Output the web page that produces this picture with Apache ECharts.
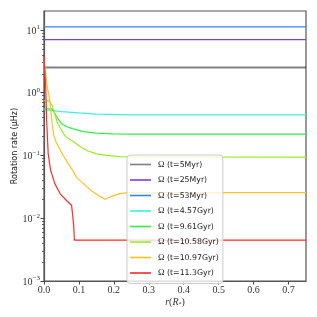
<!DOCTYPE html>
<html><head><meta charset="utf-8">
<script src="https://cdn.jsdelivr.net/npm/echarts@6/dist/echarts.min.js"></script>
<style>html,body{margin:0;padding:0;background:#fff}#c{width:317px;height:317px}</style>
</head><body><div id="c"></div>
<script>
// ---- data ----
const xTicks = [0, 0.1, 0.2, 0.3, 0.4, 0.5, 0.6, 0.7];
const yTicks = [0.001, 0.01, 0.1, 1, 10];
const yMinorTicks = [2e-3,3e-3,4e-3,5e-3,6e-3,7e-3,8e-3,9e-3,2e-2,3e-2,4e-2,5e-2,6e-2,7e-2,8e-2,9e-2,0.2,0.3,0.4,0.5,0.6,0.7,0.8,0.9,2,3,4,5,6,7,8,9];
const names = ['Ω (t=5Myr)','Ω (t=25Myr)','Ω (t=53Myr)','Ω (t=4.57Gyr)','Ω (t=9.61Gyr)','Ω (t=10.58Gyr)','Ω (t=10.97Gyr)','Ω (t=11.3Gyr)'];

const r5 = [0, 0.75],   v5 = [2.52, 2.52];
const r25 = [0, 0.75],  v25 = [7.0, 7.0];
const r53 = [0, 0.75],  v53 = [11.2, 11.2];
const r457 = [0, 0.05, 0.1, 0.15, 0.25, 0.75];
const v457 = [0.535, 0.499, 0.476, 0.456, 0.443, 0.443];
const r961 = [0, 0.023, 0.028, 0.037, 0.051, 0.065, 0.084, 0.112, 0.151, 0.197, 0.246, 0.75];
const v961 = [0.551, 0.551, 0.518, 0.406, 0.319, 0.286, 0.265, 0.240, 0.226, 0.221, 0.219, 0.219];
const r1058 = [0, 0.011, 0.017, 0.023, 0.029, 0.037, 0.046, 0.056, 0.065, 0.084, 0.103, 0.122, 0.151, 0.179, 0.217, 0.274, 0.75];
const v1058 = [0.746, 0.746, 0.719, 0.622, 0.499, 0.347, 0.278, 0.223, 0.193, 0.167, 0.139, 0.120, 0.106, 0.100, 0.0957, 0.0944, 0.094];
const r1097 = [0, 0.006, 0.010, 0.014, 0.018, 0.023, 0.028, 0.034, 0.041, 0.055, 0.069, 0.084, 0.093, 0.106, 0.122, 0.134, 0.151, 0.165, 0.174, 0.189, 0.206, 0.217, 0.236, 0.26, 0.75];
const v1097 = [3.22, 1.80, 1.16, 0.93, 0.622, 0.338, 0.207, 0.167, 0.139, 0.100, 0.0747, 0.0557, 0.0448, 0.0387, 0.0322, 0.0278, 0.0240, 0.0216, 0.0200, 0.0218, 0.0236, 0.0247, 0.0254, 0.0256, 0.0256];
const r113 = [0, 0.002, 0.005, 0.0076, 0.012, 0.019, 0.031, 0.046, 0.065, 0.079, 0.081, 0.085, 0.087, 0.75];
const v113 = [3.87, 2.23, 1.21, 0.36, 0.106, 0.0578, 0.0356, 0.0247, 0.019, 0.0161, 0.0150, 0.0077, 0.00448, 0.00448];

const colors = ['rgba(0,0,0,0.5)','#7a40d8','#2f86f6','#3ff0dc','#2fee44','#99ee22','#ffc020','#ff2a2a'];
const widths = [2, 1.3, 1.3, 1.2, 1.2, 1.2, 1.2, 1.2];
const rs = [r5, r25, r53, r457, r961, r1058, r1097, r113];
const vs = [v5, v25, v53, v457, v961, v1058, v1097, v113];

const serif = '"Liberation Serif", "DejaVu Serif", serif';
const sans = '"DejaVu Sans", sans-serif';
const sup = {'-3':'−3','-2':'−2','-1':'−1','0':'0','1':'1'};

const chart = echarts.init(document.getElementById('c'), null, {renderer:'canvas'});
const series = names.map((n, i) => ({
  name: n, type: 'line', xAxisIndex: 0, yAxisIndex: 0,
  data: rs[i].map((x, j) => [x, vs[i][j]]),
  showSymbol: false, symbol: 'none', animation: false,
  lineStyle: {color: colors[i], width: widths[i]},
  itemStyle: {color: colors[i]},
  z: 2
}));

chart.setOption({
  animation: false,
  grid: {left: 44, right: 11, top: 11, bottom: 36, show: true, borderColor: '#555', borderWidth: 1.2,
    backgroundColor: 'transparent', containLabel: false, outerBoundsMode: 'none'},
  xAxis: [{
    type: 'value', min: 0, max: 0.75,
    axisLine: {show: true, lineStyle: {color: '#555', width: 1.2}},
    axisTick: {show: true, length: 3.5, lineStyle: {color: '#444'}, customValues: xTicks},
    axisLabel: {customValues: xTicks, margin: 4, color: '#333', fontFamily: serif, fontSize: 10,
      formatter: v => v.toFixed(1)},
    splitLine: {show: false},
    name: '{i|r}({i|R}{s|*})', nameLocation: 'middle', nameGap: 16, nameMoveOverlap: false,
    nameTextStyle: {fontFamily: serif, fontSize: 10, color: '#333',
      rich: {i: {fontFamily: serif, fontStyle: 'italic', fontSize: 10, color: '#333'},
             s: {fontFamily: serif, fontSize: 6, color: '#333', verticalAlign: 'bottom', padding: [4,0,0,0]}}}
  }],
  yAxis: [{
    type: 'log', logBase: 10, min: 0.001, max: 20,
    axisLine: {show: true, lineStyle: {color: '#555', width: 1.2}},
    axisTick: {show: true, length: 3.5, lineStyle: {color: '#444'}, customValues: yTicks},
    axisLabel: {customValues: yTicks, margin: 4, color: '#333',
      formatter: v => '{b|10}{s|' + sup[String(Math.round(Math.log10(v)))] + '}',
      rich: {b: {fontFamily: serif, fontSize: 10, color: '#333', verticalAlign: 'bottom'},
             s: {fontFamily: serif, fontSize: 7, color: '#333', verticalAlign: 'bottom', padding: [0,0,5,0]}}},
    splitLine: {show: false},
    name: 'Rotation rate (μHz)', nameLocation: 'middle', nameGap: 25, nameMoveOverlap: false,
    nameTextStyle: {fontFamily: sans, fontSize: 8, color: '#222'}
  }, {
    type: 'log', logBase: 10, min: 0.001, max: 20, position: 'left',
    axisLine: {show: false},
    axisTick: {show: true, length: 2, lineStyle: {color: '#444', width: 0.8}, customValues: yMinorTicks},
    axisLabel: {show: false}, splitLine: {show: false}
  }],
  legend: {
    data: names, orient: 'vertical', left: 127, top: 155,
    padding: [5, 4, 6, 3], itemGap: 6.5, itemWidth: 21, itemHeight: 1.6, icon: 'rect',
    backgroundColor: 'rgba(255,255,255,0.8)', borderColor: '#ccc', borderWidth: 1, borderRadius: 3,
    formatter: n => n.replace('Ω', '{o|Ω}'),
    textStyle: {fontFamily: sans, fontSize: 7.8, color: '#222', padding: [0,0,0,2], lineHeight: 8, height: 8,
      rich: {o: {fontFamily: serif, fontSize: 8.8, color: '#222', lineHeight: 8, height: 8}}}
  },
  series: series
});
</script>
</body></html>
